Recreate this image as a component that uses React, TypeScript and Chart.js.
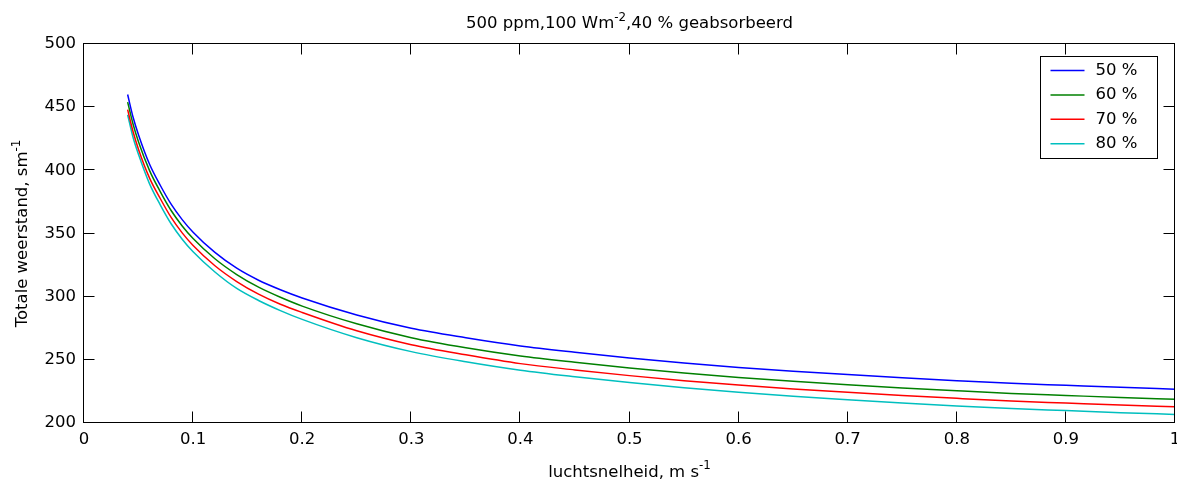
import React, { useEffect, useRef } from "react";
import { Chart, registerables } from "chart.js";

Chart.register(...registerables);

const xValues = [0.04, 0.045, 0.05, 0.06, 0.07, 0.08, 0.09, 0.1, 0.12, 0.14, 0.16, 0.18, 0.2, 0.25, 0.3, 0.35, 0.4, 0.45, 0.5, 0.55, 0.6, 0.65, 0.7, 0.75, 0.8, 0.85, 0.9, 0.95, 1.0];
const series50 = [460, 442, 428, 405, 388, 373, 361, 351, 335, 322.5, 313, 305.5, 299, 285.5, 275, 267.5, 261, 256, 251.5, 247.5, 244, 241, 238.3, 235.8, 233.5, 231.4, 229.8, 228.2, 226.8];
const series60 = [454, 436.5, 422.5, 400, 383, 368, 356, 346, 330, 317.5, 307.5, 299.5, 292.5, 278.5, 267.5, 259.5, 253, 248, 243.5, 239.5, 236, 233, 230.3, 227.8, 225.5, 223.4, 221.8, 220.2, 218.8];
const series70 = [448, 430.5, 416.5, 394, 377.5, 362.5, 350.5, 340.5, 324.5, 312, 302, 294, 287.5, 273, 262, 254, 247, 242, 237.5, 233.5, 230, 227, 224.3, 221.8, 219.5, 217.4, 215.8, 214.2, 212.8];
const series80 = [444, 426, 412.5, 389.5, 372.5, 357.5, 345.5, 335.5, 319.5, 306.5, 297, 289, 282, 267.5, 256.5, 248.5, 241.8, 236.6, 232, 227.9, 224.3, 221.2, 218.5, 215.9, 213.5, 211.4, 209.8, 208.2, 206.8];
const seriesLabels = ["50 %", "60 %", "70 %", "80 %"];
const seriesColors = ["#0000ff", "#008000", "#ff0000", "#00bfbf"];
const xTicks = [0, 0.1, 0.2, 0.3, 0.4, 0.5, 0.6, 0.7, 0.8, 0.9, 1];
const yTicks = [200, 250, 300, 350, 400, 450, 500];
const titleParts: [string, boolean][] = [["500 ppm,100 Wm", false], ["-2", true], [",40 % geabsorbeerd", false]];
const xLabelParts: [string, boolean][] = [["luchtsnelheid, m s", false], ["-1", true]];
const yLabelParts: [string, boolean][] = [["Totale weerstand, sm", false], ["-1", true]];

const FONT = '"DejaVu Sans"';
const FS = 16.5;

function drawRich(ctx: CanvasRenderingContext2D, parts: [string, boolean][], cx: number, baseline: number) {
  const mainFont = `${FS}px ${FONT}`;
  const supFont = `${FS * 0.72}px ${FONT}`;
  let total = 0;
  const widths = parts.map(([t, sup]) => {
    ctx.font = sup ? supFont : mainFont;
    const w = ctx.measureText(t).width;
    total += w;
    return w;
  });
  let x = cx - total / 2;
  ctx.textAlign = "left";
  ctx.textBaseline = "alphabetic";
  parts.forEach(([t, sup], i) => {
    ctx.font = sup ? supFont : mainFont;
    ctx.fillText(t, x, sup ? baseline - FS * 0.45 : baseline);
    x += widths[i];
  });
}

const decorPlugin = {
  id: "matlabDecor",
  afterDatasetsDraw(chart: any) {
    const { ctx, chartArea: a, scales } = chart;
    ctx.save();
    ctx.strokeStyle = "#000";
    ctx.fillStyle = "#000";
    ctx.lineWidth = 1;
    const L = Math.round(a.left) - 0.5;
    const R = Math.round(a.right) - 0.5;
    const T = Math.round(a.top) - 0.5;
    const B = Math.round(a.bottom) - 0.5;
    ctx.strokeRect(L, T, R - L, B - T);
    const tl = 11;
    ctx.beginPath();
    xTicks.forEach((v) => {
      const px = Math.round(scales.x.getPixelForValue(v)) - 0.5;
      ctx.moveTo(px, B);
      ctx.lineTo(px, B - tl);
      ctx.moveTo(px, T);
      ctx.lineTo(px, T + tl);
    });
    yTicks.forEach((v) => {
      const py = Math.round(scales.y.getPixelForValue(v)) - 0.5;
      ctx.moveTo(L, py);
      ctx.lineTo(L + tl, py);
      ctx.moveTo(R, py);
      ctx.lineTo(R - tl, py);
    });
    ctx.stroke();

    const cx = (a.left + a.right) / 2;
    const cy = (a.top + a.bottom) / 2;
    drawRich(ctx, titleParts, cx, 28);
    drawRich(ctx, xLabelParts, cx, 476.5);
    ctx.save();
    ctx.translate(27, cy);
    ctx.rotate(-Math.PI / 2);
    drawRich(ctx, yLabelParts, 0, 0);
    ctx.restore();

    const bw = 117;
    const bh = 102;
    const bx = Math.round(a.right - 18 - bw) + 0.5;
    const by = Math.round(a.top + 12) + 0.5;
    ctx.fillStyle = "#fff";
    ctx.fillRect(bx, by, bw, bh);
    ctx.strokeStyle = "#000";
    ctx.lineWidth = 1;
    ctx.strokeRect(bx, by, bw, bh);
    chart.data.datasets.forEach((ds: any, i: number) => {
      const ry = by + 14 + i * 24.4;
      ctx.strokeStyle = ds.borderColor;
      ctx.lineWidth = 1.5;
      ctx.beginPath();
      ctx.moveTo(bx + 10, ry);
      ctx.lineTo(bx + 44, ry);
      ctx.stroke();
      ctx.fillStyle = "#000";
      ctx.font = `${FS}px ${FONT}`;
      ctx.textAlign = "left";
      ctx.textBaseline = "middle";
      ctx.fillText(ds.label, bx + 55, ry);
    });
    ctx.restore();
  },
};

export default function App() {
  const ref = useRef<HTMLCanvasElement>(null);
  useEffect(() => {
    if (!ref.current) return;
    const allSeries = [series50, series60, series70, series80];
    const chart = new Chart(ref.current, {
      type: "line",
      data: {
        datasets: allSeries.map((s, i) => ({
          label: seriesLabels[i],
          data: xValues.map((x, j) => ({ x, y: s[j] })),
          borderColor: seriesColors[i],
          backgroundColor: seriesColors[i],
          borderWidth: 1.5,
          pointRadius: 0,
          cubicInterpolationMode: "monotone" as const,
          fill: false,
        })),
      },
      options: {
        responsive: false,
        animation: false,
        layout: { padding: { top: 44, right: 2, left: 0, bottom: 0 } },
        plugins: { legend: { display: false }, title: { display: false }, tooltip: { enabled: false } },
        scales: {
          x: {
            type: "linear",
            min: 0,
            max: 1,
            afterFit: (s: any) => { s.height = 61; s.paddingLeft = 0; s.paddingRight = 0; },
            afterBuildTicks: (s: any) => { s.ticks = xTicks.map((v) => ({ value: v })); },
            grid: { display: false, drawTicks: false },
            border: { display: false },
            ticks: {
              color: "#000",
              font: { family: "DejaVu Sans", size: FS },
              padding: 7,
              maxRotation: 0,
              autoSkip: false,
              callback: (v: any) => String(Number(Number(v).toFixed(1))),
            },
          },
          y: {
            type: "linear",
            min: 200,
            max: 500,
            afterFit: (s: any) => { s.width = 84; s.paddingTop = 0; s.paddingBottom = 0; },
            afterBuildTicks: (s: any) => { s.ticks = yTicks.map((v) => ({ value: v })); },
            grid: { display: false, drawTicks: false },
            border: { display: false },
            ticks: {
              color: "#000",
              font: { family: "DejaVu Sans", size: FS },
              padding: 8,
              autoSkip: false,
              callback: (v: any) => String(v),
            },
          },
        },
      },
      plugins: [decorPlugin],
    });
    return () => chart.destroy();
  }, []);
  return (
    <div style={{ position: "fixed", left: 0, top: 0, width: 1177, height: 484, background: "#fff" }}>
      <canvas ref={ref} width={1177} height={484} style={{ display: "block" }} />
    </div>
  );
}
